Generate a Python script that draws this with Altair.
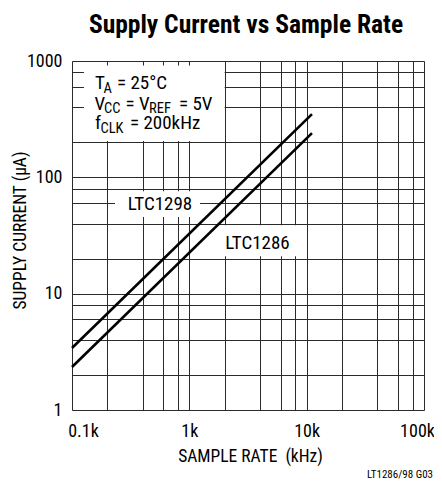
import altair as alt
import pandas as pd

# ---- data ----
sample_rate_khz = [0.1, 11.1]
ltc1298_current_ua = [3.41, 349]
ltc1286_current_ua = [2.34, 240]

x_grid = [0.1, 0.2, 0.4, 0.6, 0.8, 1, 2, 4, 6, 8, 10, 20, 40, 60, 80, 100]
y_grid = [1, 2, 4, 6, 8, 10, 20, 40, 60, 80, 100, 200, 400, 600, 800, 1000]

series_names = ["LTC1298", "LTC1286"]
series_label_x = [0.5625, 3.81]
series_label_y = [58.9, 27.2]
series_box_x = [0.2326, 1.827]
series_box_x2 = [1.234, 8.79]
series_box_y = [45.5, 21.0]
series_box_y2 = [76.1, 38.8]

cond_box_x, cond_box_x2 = [0.1265], [2.0]
cond_box_y, cond_box_y2 = [205], [915]

FONT = "Roboto Condensed"

rows = []
for r, c in zip(sample_rate_khz, ltc1298_current_ua):
    rows.append({"rate": r, "current": c, "part": "LTC1298"})
for r, c in zip(sample_rate_khz, ltc1286_current_ua):
    rows.append({"rate": r, "current": c, "part": "LTC1286"})
df = pd.DataFrame(rows)

labels_df = pd.DataFrame({
    "name": series_names, "lx": series_label_x, "ly": series_label_y,
    "bx": series_box_x, "bx2": series_box_x2, "by": series_box_y, "by2": series_box_y2,
})
cond_df = pd.DataFrame({"bx": cond_box_x, "bx2": cond_box_x2, "by": cond_box_y, "by2": cond_box_y2})

xscale = alt.Scale(type="log", domain=[0.1, 100], nice=False)
yscale = alt.Scale(type="log", domain=[1, 1000], nice=False)

GRID = "#2b2b2b"

x_axis = alt.Axis(
    values=x_grid, grid=True, gridColor=GRID, gridWidth=1, gridOpacity=1,
    ticks=False, domain=False, labelOverlap=False, labelFlush=False,
    labelExpr="datum.value == 0.1 ? '0.1k' : datum.value == 1 ? '1k' : datum.value == 10 ? '10k' : datum.value == 100 ? '100k' : ''",
    labelFont=FONT, labelFontSize=18, labelColor="black", labelPadding=12,
    labelOffset={"condition": [{"test": "datum.value <= 0.1", "value": 11},
                               {"test": "datum.value >= 100", "value": -7}], "value": 0},
    title="SAMPLE RATE\u00a0 (kHz)", titleFont=FONT, titleFontSize=17.5, titleFontWeight="normal",
    titleColor="black", titleX=178, titleY=46, titleBaseline="middle",
)
y_axis = alt.Axis(
    values=y_grid, grid=True, gridColor=GRID, gridWidth=1, gridOpacity=1,
    ticks=False, domain=False, labelOverlap=False,
    labelExpr="datum.value == 1 ? '1' : datum.value == 10 ? '10' : datum.value == 100 ? '100' : datum.value == 1000 ? '1000' : ''",
    labelFont=FONT, labelFontSize=18, labelColor="black", labelPadding=10,
    title="SUPPLY CURRENT (\u00b5A)", titleFont=FONT, titleFontSize=17.5, titleFontWeight="normal",
    titleColor="black", titleX=-52, titleY=169, titleBaseline="middle", titleAngle=-90,
)

base_x = alt.X("rate:Q", scale=xscale, axis=x_axis)
base_y = alt.Y("current:Q", scale=yscale, axis=y_axis)

lines = alt.Chart(df).mark_line(color="black", strokeWidth=2.6).encode(
    x=base_x, y=base_y, detail="part:N"
)

cond_box = alt.Chart(cond_df).mark_rect(fill="white").encode(
    x=alt.X("bx:Q", scale=xscale), x2="bx2:Q",
    y=alt.Y("by:Q", scale=yscale), y2="by2:Q",
)
label_boxes = alt.Chart(labels_df).mark_rect(fill="white").encode(
    x=alt.X("bx:Q", scale=xscale), x2="bx2:Q",
    y=alt.Y("by:Q", scale=yscale), y2="by2:Q",
)
label_text = alt.Chart(labels_df).mark_text(
    font=FONT, fontSize=19, color="black", align="center", baseline="middle"
).encode(
    x=alt.X("lx:Q", scale=xscale), y=alt.Y("ly:Q", scale=yscale), text="name:N"
)

# condition annotation pieces: text, x px, baseline px, size
cond_texts = ["T", "A", "= 25\u00b0C",
              "V", "CC", "=", "V", "REF", "= 5V",
              "f", "CLK", "= 200kHz"]
cond_px = [23, 31.5, 45, 22.5, 32, 53.5, 67, 77, 107, 23, 28.5, 58]
cond_py = [28, 32, 28, 49, 52, 49, 49, 52, 49, 68, 72, 68]
cond_size = [19, 14.5, 19, 19, 14.5, 19, 19, 14.5, 19, 19, 14.5, 19]

cond_layers = []
for t, px, py, s in zip(cond_texts, cond_px, cond_py, cond_size):
    cond_layers.append(
        alt.Chart(pd.DataFrame({"t": [t]})).mark_text(
            font=FONT, fontSize=s, color="black", align="left", baseline="alphabetic"
        ).encode(x=alt.value(px), y=alt.value(py), text="t:N")
    )

title = alt.Chart(pd.DataFrame({"t": ["Supply Current vs Sample Rate"]})).mark_text(
    font=FONT, fontSize=25.5, fontWeight="bold", color="black",
    align="center", baseline="alphabetic"
).encode(x=alt.value(174), y=alt.value(-28), text="t:N")

footer = alt.Chart(pd.DataFrame({"t": ["LT1286/98 G03"]})).mark_text(
    font=FONT, fontSize=11, color="black",
    align="right", baseline="alphabetic"
).encode(x=alt.value(361), y=alt.value(417), text="t:N")

chart = alt.layer(cond_box, label_boxes, lines, label_text, *cond_layers, title, footer).properties(
    width=352, height=349,
    autosize=alt.AutoSizeParams(type="none"),
    padding={"left": 64, "top": 53, "right": 10, "bottom": 71},
).configure_view(stroke="black", strokeWidth=2).configure(background="white")

chart.save("out.html", embed_options={"renderer": "svg", "actions": False})
